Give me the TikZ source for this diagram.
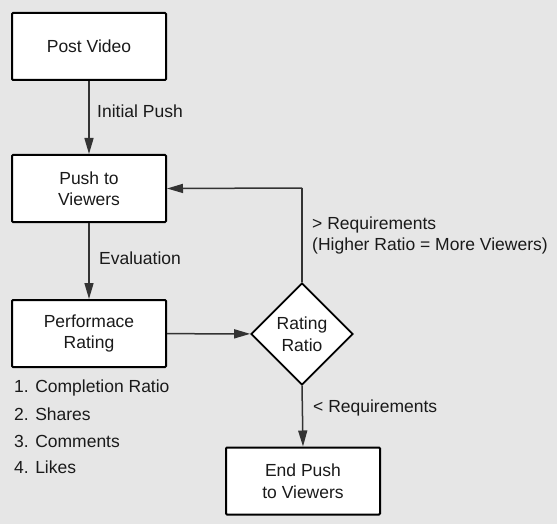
\documentclass[tikz,border=0pt]{standalone}
\usepackage{fontspec}
\setmainfont{Liberation Sans}
\usetikzlibrary{shapes.geometric,arrows.meta}
\definecolor{bg}{HTML}{E6E6E6}
\definecolor{ln}{HTML}{333333}
\definecolor{tx}{HTML}{1A1A1A}
\begin{document}
\begin{tikzpicture}[x=1pt,y=-1pt,
  every node/.style={font=\fontsize{17.5}{21.5}\selectfont, text=tx},
  box/.style={draw=black, line width=2pt, fill=white, minimum width=154pt, minimum height=67pt, align=center, inner sep=0pt, rounded corners=1pt},
  dia/.style={draw=black, line width=1.8pt, fill=white, diamond, minimum width=102pt, minimum height=102pt, inner sep=0pt, align=center},
  lbl/.style={anchor=west, align=left, inner sep=0pt},
  conn/.style={draw=ln, line width=1.5pt, -{Triangle[length=16pt,width=9pt]}},
  plain/.style={draw=ln, line width=1.5pt}]
\fill[bg] (0,0) rectangle (557,524);
\useasboundingbox (0,0) rectangle (557,524);
\node[box] (post) at (89,46.5) {Post Video};
\node[box] (push) at (89,188.5) {Push to\\Viewers};
\node[box] (perf) at (89,333.5) {Performace\\Rating};
\node[dia] (ratio) at (302,334) {Rating\\Ratio};
\node[box] (end) at (303,481) {End Push\\to Viewers};
\coordinate (corner) at (302,188);
\draw[conn] (post) -- (push);
\draw[conn] (push) -- (perf);
\draw[conn] (perf) -- (ratio);
\draw[conn] (ratio.south) -- (end.north);
\draw[plain] (ratio.north) -- (corner);
\draw[conn] (corner) -- (push.east);
\node[lbl] (l1) at (97,111) {Initial Push};
\node[lbl] (l2) at (99,258) {Evaluation};
\node[lbl] (l3) at (312,235.5) {> Requirements\\(Higher Ratio = More Viewers)};
\node[lbl] (l4) at (313,408) {< Requirements};
\node[lbl] (m1) at (14,388) {1. Completion Ratio};
\node[lbl] (m2) at (14,414.5) {2. Shares};
\node[lbl] (m3) at (14,441) {3. Comments};
\node[lbl] (m4) at (14,467.5) {4. Likes};
\end{tikzpicture}
\end{document}
